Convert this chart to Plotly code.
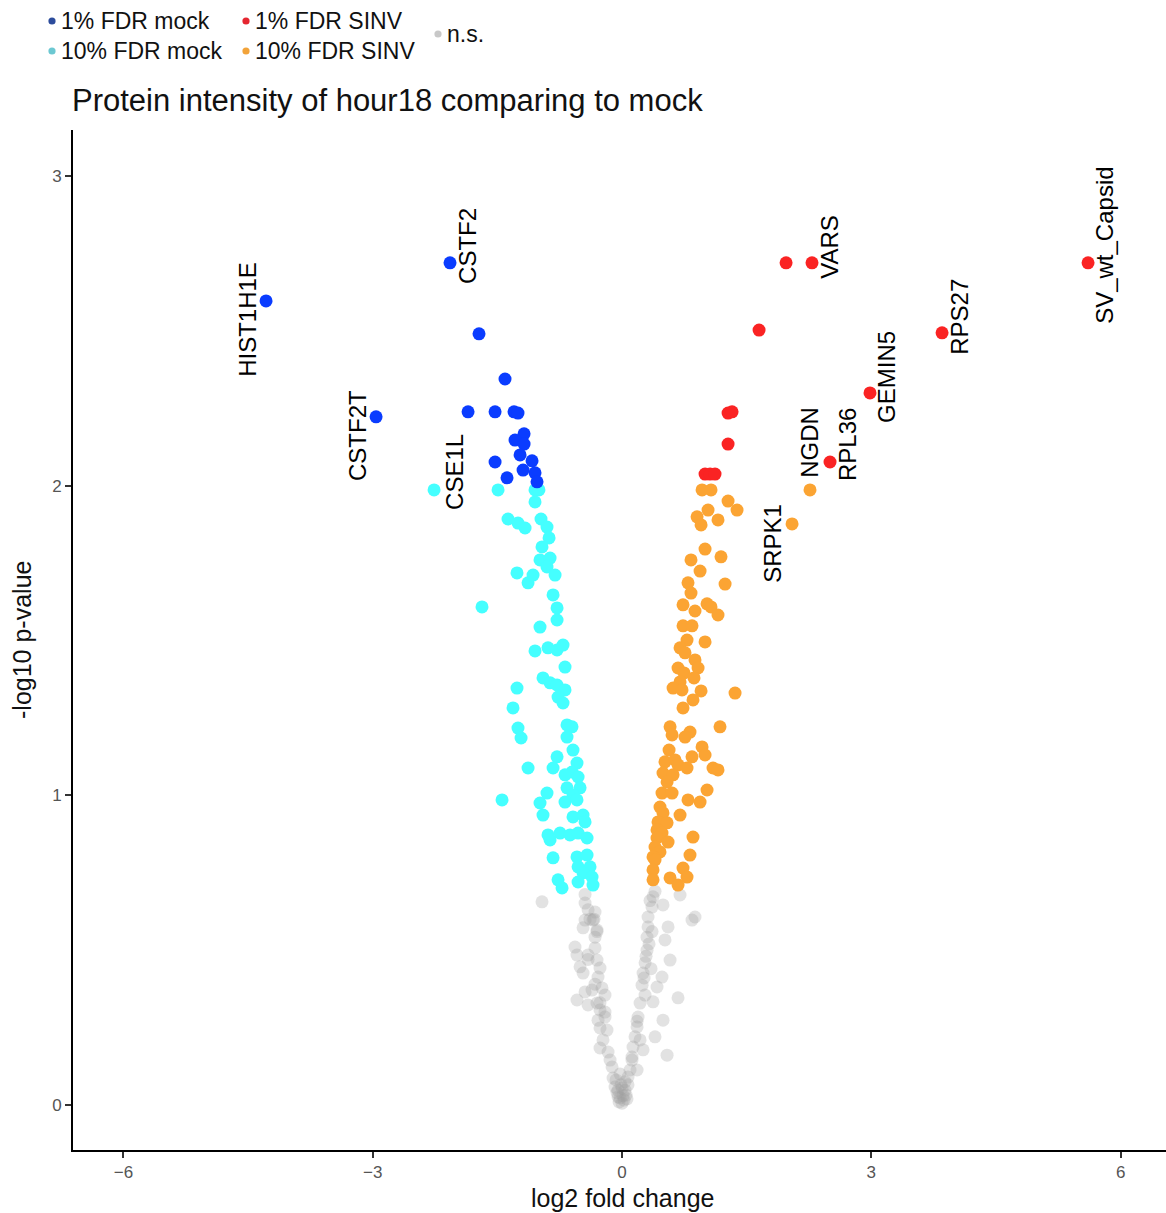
import plotly.graph_objects as go

FONT = "Liberation Sans, Arial, Helvetica, sans-serif"

# ---- significance groups: log2 fold change / -log10 p-value ----
mock_1pct_x = [-4.284, -2.960, -2.070, -1.721, -1.408, -1.853, -1.528, -1.300, -1.252,
               -1.179, -1.288, -1.179, -1.227, -1.083, -1.528, -1.191, -1.047, -1.023, -1.384]
mock_1pct_y = [2.596, 2.222, 2.719, 2.490, 2.344, 2.238, 2.238, 2.238, 2.234,
               2.167, 2.147, 2.134, 2.099, 2.080, 2.076, 2.050, 2.041, 2.012, 2.025]

sinv_1pct_x = [5.608, 3.851, 2.984, 2.286, 1.974, 1.649, 2.503, 1.276, 1.324, 1.276,
               0.999, 1.059, 1.119]
sinv_1pct_y = [2.719, 2.493, 2.299, 2.719, 2.719, 2.502, 2.076, 2.234, 2.238, 2.134,
               2.037, 2.037, 2.037]

mock_10pct_x = [-2.262, -1.685, -1.444, -1.492, -1.047, -1.000, -1.047, -1.372, -1.252,
                -1.167, -0.975, -0.903, -0.878, -0.963, -0.987, -0.866, -0.903, -0.806,
                -1.071, -1.131, -1.264, -0.830, -0.782, -0.782, -0.987, -1.047, -0.891,
                -0.782, -0.710, -0.686, -0.951, -0.866, -0.782, -0.686, -0.770, -0.710,
                -1.264, -1.312, -1.252, -1.215, -0.662, -0.602, -0.662, -0.590, -0.782,
                -0.830, -0.542, -0.602, -0.686, -0.529, -1.131, -0.662, -0.505, -0.590,
                -0.903, -0.987, -0.951, -0.686, -0.542, -0.590, -0.469, -0.445, -0.891,
                -0.866, -0.746, -0.626, -0.529, -0.421, -0.830, -0.542, -0.421, -0.529,
                -0.385, -0.469, -0.529, -0.361, -0.349, -0.770, -0.722]
mock_10pct_y = [1.986, 1.608, 0.985, 1.986, 1.986, 1.986, 1.947, 1.892, 1.879,
                1.863, 1.892, 1.866, 1.831, 1.802, 1.760, 1.766, 1.737, 1.711,
                1.711, 1.686, 1.718, 1.647, 1.605, 1.566, 1.543, 1.466, 1.476,
                1.469, 1.485, 1.414, 1.379, 1.363, 1.356, 1.340, 1.317, 1.298,
                1.346, 1.282, 1.217, 1.185, 1.227, 1.221, 1.188, 1.146, 1.124,
                1.088, 1.104, 1.075, 1.066, 1.059, 1.088, 1.024, 1.024, 1.001,
                1.007, 0.975, 0.936, 0.978, 0.985, 0.930, 0.936, 0.914, 0.872,
                0.856, 0.878, 0.872, 0.878, 0.862, 0.798, 0.801, 0.807, 0.769,
                0.769, 0.749, 0.720, 0.736, 0.710, 0.727, 0.701]

sinv_10pct_x = [2.262, 2.046, 0.963, 1.071, 1.276, 1.384, 1.035, 0.903, 1.155, 0.951,
                0.999, 1.191, 0.830, 0.939, 1.240, 0.794, 0.830, 0.734, 0.878, 1.023,
                1.071, 1.155, 0.734, 0.842, 0.999, 0.782, 0.698, 0.758, 0.878, 0.674,
                0.915, 0.746, 0.866, 0.698, 0.614, 0.722, 0.951, 1.360, 0.854, 0.734,
                1.179, 0.578, 0.602, 0.818, 0.758, 0.963, 0.566, 0.999, 0.842, 0.517,
                0.638, 1.095, 1.155, 0.674, 0.493, 0.782, 0.614, 0.542, 1.023, 0.481,
                0.602, 0.794, 0.939, 0.457, 0.493, 0.698, 0.433, 0.542, 0.421, 0.481,
                0.854, 0.421, 0.554, 0.397, 0.457, 0.818, 0.373, 0.397, 0.373, 0.734,
                0.578, 0.782, 0.674, 0.373]
sinv_10pct_y = [1.986, 1.876, 1.986, 1.986, 1.950, 1.921, 1.921, 1.899, 1.889, 1.873,
                1.795, 1.770, 1.760, 1.724, 1.682, 1.686, 1.653, 1.615, 1.595, 1.618,
                1.608, 1.582, 1.547, 1.547, 1.495, 1.501, 1.476, 1.460, 1.437, 1.411,
                1.411, 1.395, 1.379, 1.366, 1.346, 1.340, 1.337, 1.330, 1.308, 1.282,
                1.221, 1.221, 1.195, 1.204, 1.188, 1.156, 1.146, 1.130, 1.124, 1.108,
                1.114, 1.088, 1.082, 1.098, 1.072, 1.088, 1.066, 1.043, 1.017, 1.007,
                1.007, 0.985, 0.978, 0.962, 0.943, 0.936, 0.914, 0.911, 0.888, 0.878,
                0.865, 0.862, 0.849, 0.833, 0.817, 0.807, 0.801, 0.791, 0.759, 0.765,
                0.733, 0.736, 0.710, 0.727]

ns_x = [-0.963, -0.445, -0.409, -0.325, -0.445, -0.469, -0.349, -0.301, -0.325, -0.566,
        -0.542, -0.409, -0.325, -0.301, -0.505, -0.265, -0.469, -0.289, -0.445, -0.241,
        -0.542, -0.409, -0.301, -0.265, -0.205, -0.265, -0.181, -0.265, -0.168, -0.120,
        -0.108, -0.084, -0.048, 0.000, 0.036, 0.072, 0.096, 0.120, 0.132, 0.156,
        0.181, 0.193, 0.217, 0.241, 0.253, 0.277, 0.301, 0.301, 0.313, 0.313,
        0.361, 0.373, 0.493, 0.554, 0.517, 0.578, 0.481, 0.421, 0.373, 0.674,
        0.493, 0.397, 0.542, 0.253, 0.181, 0.698, 0.842, 0.878, -0.024, 0.024,
        -0.048, 0.048, -0.012, -0.072, 0.072, -0.229, -0.144, 0.120, 0.217, -0.205,
        0.277, -0.361, -0.289, -0.036, 0.012, -0.060, 0.060, 0.000, -0.024, 0.036,
        -0.325, -0.265, 0.265, 0.325, -0.385, 0.337, -0.205, 0.181, -0.409, 0.349,
        -0.301, 0.289, -0.445, 0.361, 0.397, -0.337]
ns_y = [0.656, 0.652, 0.630, 0.623, 0.597, 0.572, 0.597, 0.565, 0.542, 0.510,
        0.484, 0.484, 0.507, 0.468, 0.446, 0.442, 0.426, 0.413, 0.365, 0.378,
        0.339, 0.323, 0.329, 0.307, 0.284, 0.249, 0.242, 0.184, 0.171, 0.123,
        0.087, 0.058, 0.026, 0.006, 0.048, 0.090, 0.113, 0.155, 0.187, 0.220,
        0.252, 0.284, 0.329, 0.387, 0.426, 0.459, 0.500, 0.542, 0.575, 0.607,
        0.639, 0.672, 0.646, 0.575, 0.533, 0.468, 0.413, 0.381, 0.333, 0.346,
        0.274, 0.220, 0.161, 0.178, 0.113, 0.678, 0.597, 0.607, 0.023, 0.016,
        0.048, 0.032, 0.065, 0.081, 0.065, 0.210, 0.145, 0.145, 0.210, 0.355,
        0.355, 0.371, 0.274, 0.010, 0.030, 0.040, 0.020, 0.055, 0.100, 0.075,
        0.390, 0.330, 0.410, 0.520, 0.600, 0.660, 0.300, 0.270, 0.470, 0.440,
        0.560, 0.480, 0.680, 0.560, 0.690, 0.600]

# ---- gene labels (rotated text placed beside their points) ----
label_text = ["HIST1H1E", "CSTF2", "CSTF2T", "CSE1L", "VARS", "RPS27", "GEMIN5",
              "NGDN", "RPL36", "SRPK1", "SV_wt_Capsid"]
label_x = [-4.501, -1.853, -3.189, -2.010, 2.503, 4.067, 3.189, 2.262, 2.720, 1.817, 5.812]
label_y = [2.535, 2.774, 2.160, 2.044, 2.771, 2.545, 2.351, 2.138, 2.131, 1.812, 2.774]

# ---- legend entries ----
legend_names = ["1% FDR mock", "10% FDR mock", "1% FDR SINV", "10% FDR SINV", "n.s."]
legend_colors = ["#2c4c9c", "#6cc8d2", "#e52630", "#f2a33a", "#c8c8c8"]

COL_MOCK1 = "#0a3cff"
COL_MOCK10 = "#45ffff"
COL_SINV1 = "#fa2323"
COL_SINV10 = "#fba433"
COL_NS = "#a0a0a0"

MS = 13

fig = go.Figure()
fig.add_trace(go.Scatter(x=ns_x, y=ns_y, mode="markers",
                         marker=dict(size=MS, color=COL_NS, opacity=0.3),
                         hoverinfo="skip", showlegend=False))
fig.add_trace(go.Scatter(x=mock_10pct_x, y=mock_10pct_y, mode="markers",
                         marker=dict(size=MS, color=COL_MOCK10), showlegend=False))
fig.add_trace(go.Scatter(x=sinv_10pct_x, y=sinv_10pct_y, mode="markers",
                         marker=dict(size=MS, color=COL_SINV10), showlegend=False))
fig.add_trace(go.Scatter(x=mock_1pct_x, y=mock_1pct_y, mode="markers",
                         marker=dict(size=MS, color=COL_MOCK1), showlegend=False))
fig.add_trace(go.Scatter(x=sinv_1pct_x, y=sinv_1pct_y, mode="markers",
                         marker=dict(size=MS, color=COL_SINV1), showlegend=False))

annotations = []
for t, lx, ly in zip(label_text, label_x, label_y):
    annotations.append(dict(x=lx, y=ly, xref="x", yref="y", text=t, showarrow=False,
                            textangle=-90, xanchor="center", yanchor="middle",
                            font=dict(family=FONT, size=24, color="#000000")))

# plot-area geometry (pixels) used to place the hand-built legend and axis titles
W, H = 1166, 1213
L, R, T, B = 73, 0, 130, 63
PW, PH = W - L - R, H - T - B


def px(xp):
    return (xp - L) / PW


def py(yp):
    return (H - B - yp) / PH


# legend layout: two columns of two rows, then "n.s." centred between the rows
legend_pos = [(52, 21), (52, 51), (246, 21), (246, 51), (438, 34)]
shapes = []
r = 3.6
for name, col, (cx, cy) in zip(legend_names, legend_colors, legend_pos):
    shapes.append(dict(type="circle", xref="paper", yref="paper",
                       x0=px(cx - r), x1=px(cx + r), y0=py(cy + r), y1=py(cy - r),
                       fillcolor=col, line=dict(width=0)))
    annotations.append(dict(x=px(cx + 7), y=py(cy), xref="paper", yref="paper",
                            text=name, showarrow=False, xanchor="left", yanchor="middle",
                            font=dict(family=FONT, size=23, color="#111111")))

# axis titles
annotations.append(dict(x=px(622), y=py(1198), xref="paper", yref="paper",
                        text="log2 fold change", showarrow=False,
                        xanchor="center", yanchor="middle",
                        font=dict(family=FONT, size=25, color="#111111")))
annotations.append(dict(x=px(22), y=py(640), xref="paper", yref="paper",
                        text="-log10 p-value", showarrow=False, textangle=-90,
                        xanchor="center", yanchor="middle",
                        font=dict(family=FONT, size=25, color="#111111")))

axis_common = dict(showgrid=False, zeroline=False, showline=True, linecolor="#000000",
                   linewidth=2, ticks="outside", ticklen=6, tickwidth=1.5,
                   tickcolor="#333333",
                   tickfont=dict(family=FONT, size=17, color="#555555"))

fig.update_layout(
    width=W, height=H,
    margin=dict(l=L, r=R, t=T, b=B, pad=0),
    paper_bgcolor="#ffffff", plot_bgcolor="#ffffff",
    title=dict(text="Protein intensity of hour18 comparing to mock",
               xref="container", yref="container", x=72 / W, y=1 - 100 / H,
               xanchor="left", yanchor="middle",
               font=dict(family=FONT, size=31, color="#111111")),
    xaxis=dict(range=[-6.607, 6.546], tickvals=[-6, -3, 0, 3, 6], **axis_common),
    yaxis=dict(range=[-0.1453, 3.148], tickvals=[0, 1, 2, 3], **axis_common),
    annotations=annotations,
    shapes=shapes,
    showlegend=False,
)

fig.write_html("out.html")
